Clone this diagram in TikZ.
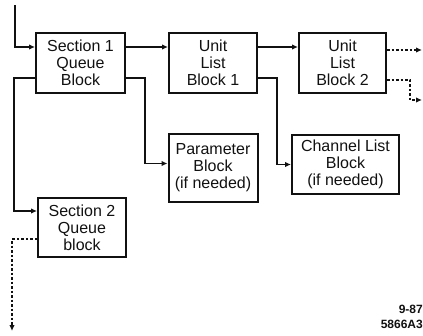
\documentclass[tikz,border=0pt]{standalone}
\usepackage{fontspec}
\setmainfont{Liberation Sans}
\usetikzlibrary{arrows.meta,positioning}
\definecolor{ScanInk}{HTML}{111111}
\tikzset{
  blockbox/.style={draw=ScanInk, line width=2pt, align=center, inner sep=0pt,
                   font=\fontsize{16}{17}\selectfont\color{ScanInk}},
  link/.style={-{Latex[length=6pt,width=5.5pt]}, line width=1.7pt, ScanInk},
  dashlink/.style={link, dash pattern=on 2.5pt off 2pt},
  stamp/.style={font=\fontsize{12}{13}\selectfont\bfseries\color{ScanInk},
                anchor=east, inner sep=0pt},
}

\begin{document}
\begin{tikzpicture}[x=1pt,y=-1pt]
  \useasboundingbox (0,0) rectangle (423,335);

  % queue blocks and unit list chain
  \node[blockbox, minimum width=89pt, minimum height=60pt] (sec1) at (80.5,62.5)
    {Section 1\\Queue\\Block};
  \node[blockbox, minimum width=88pt, minimum height=60pt, right=42pt of sec1] (unit1)
    {Unit\\List\\Block 1};
  \node[blockbox, minimum width=87pt, minimum height=60pt, right=40pt of unit1] (unit2)
    {Unit\\List\\Block 2};
  \node[blockbox, minimum width=89pt, minimum height=68pt, below=39.5pt of unit1] (param)
    {Parameter\\Block\\(if needed)};
  \node[blockbox, minimum width=107pt, minimum height=59pt, below=40.5pt of unit2,
        xshift=3pt] (chan)
    {Channel List\\Block\\(if needed)};
  \node[blockbox, minimum width=88pt, minimum height=59pt, below=103.5pt of sec1,
        xshift=1.5pt] (sec2)
    {Section 2\\Queue\\block};

  \coordinate (feed) at (15,5);
  \coordinate (more1) at (422,50);
  \coordinate (more2) at (422,100);
  \coordinate (more3) at (12,331);

  \draw[link] (feed) |- ([yshift=15.5pt]sec1.west);
  \draw[link] ([yshift=-15.5pt]sec1.west) -- ++(-21,0) |- ([yshift=16.5pt]sec2.west);
  \draw[link] ([yshift=15.5pt]sec1.east) -- ([yshift=15.5pt]unit1.west);
  \draw[link] ([yshift=-15.5pt]sec1.east) -- ++(19,0) |- ([yshift=4.5pt]param.west);
  \draw[link] ([yshift=15.5pt]unit1.east) -- ([yshift=15.5pt]unit2.west);
  \draw[link] ([yshift=-15.5pt]unit1.east) -- ++(19,0) |- (chan.west);

  % continuation paths
  \draw[dashlink] ([yshift=12.5pt]unit2.east) -- (more1);
  \draw[dashlink] ([yshift=-17.5pt]unit2.east) -- ++(23,0) |- (more2);
  \draw[dashlink] ([yshift=-11.5pt]sec2.west) -| (more3);

  \node[stamp] (date) at (423,309) {9-87};
  \node[stamp] (ref) at (423,324) {5866A3};
\end{tikzpicture}
\end{document}
